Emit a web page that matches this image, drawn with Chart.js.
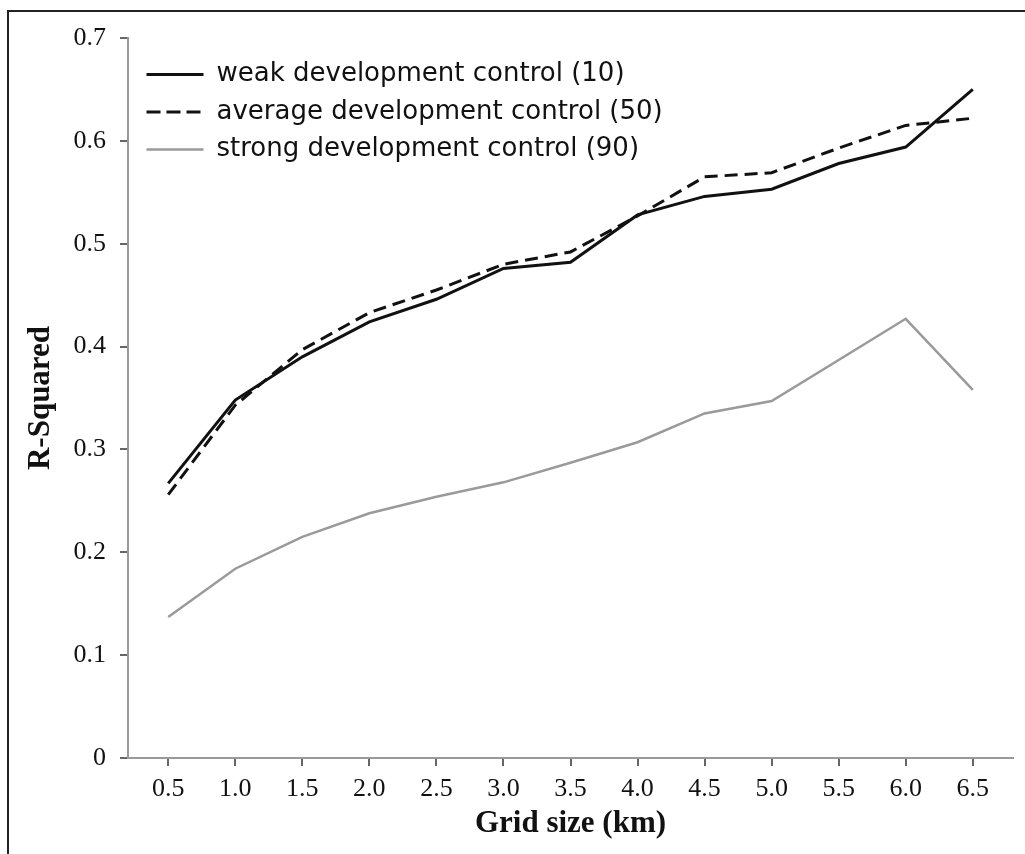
<!DOCTYPE html>
<html>
<head>
<meta charset="utf-8">
<script src="https://cdn.jsdelivr.net/npm/chart.js@4.4.1/dist/chart.umd.min.js"></script>
<style>
  html, body { margin: 0; padding: 0; background: #fff; }
  #wrap { position: relative; width: 1025px; height: 854px; }
  #frame { position: absolute; left: 7px; top: 10px; right: 0; bottom: 0;
           border-top: 2px solid #222; border-left: 2px solid #222; pointer-events: none; }
  canvas { position: absolute; left: 0; top: 0; }
</style>
</head>
<body>
<div id="wrap">
  <canvas id="c" width="1025" height="854"></canvas>
  <div id="frame"></div>
</div>
<script>
"use strict";

// grid size (km) and R-squared per development-control level
const GRID_KM = [0.5, 1.0, 1.5, 2.0, 2.5, 3.0, 3.5, 4.0, 4.5, 5.0, 5.5, 6.0, 6.5];
const WEAK    = [0.267, 0.348, 0.390, 0.424, 0.446, 0.476, 0.482, 0.528, 0.546, 0.553, 0.578, 0.594, 0.650];
const AVERAGE = [0.256, 0.343, 0.397, 0.433, 0.455, 0.480, 0.492, 0.527, 0.565, 0.569, 0.593, 0.615, 0.622];
const STRONG  = [0.137, 0.184, 0.215, 0.238, 0.254, 0.268, 0.287, 0.307, 0.335, 0.347, 0.387, 0.427, 0.358];
const Y_TICKS = [0, 0.1, 0.2, 0.3, 0.4, 0.5, 0.6, 0.7];

const SERIF = '"Liberation Serif", "DejaVu Serif", serif';
const SANS = '"DejaVu Sans", "Noto Sans", sans-serif';
const AXIS = "#999";

function pts(ys) { return GRID_KM.map((x, i) => ({ x, y: ys[i] })); }

function line(label, ys, color, width, dash) {
  return { label, data: pts(ys), borderColor: color, backgroundColor: color,
           borderWidth: width, borderDash: dash || [], pointRadius: 0, tension: 0, fill: false };
}

// nudge the in-plot legend to where it sits in the figure
const legendNudge = {
  id: "legendNudge",
  afterLayout(chart) {
    if (!chart.legend) return;
    chart.legend.left += 7;
    chart.legend.top += 50;
  },
};

new Chart(document.getElementById("c"), {
  type: "line",
  data: {
    datasets: [
      line("weak development control (10)", WEAK, "#111", 3),
      line("average development control (50)", AVERAGE, "#111", 3, [13, 7]),
      line("strong development control (90)", STRONG, "#9a9a9a", 2.5),
    ],
  },
  options: {
    responsive: false,
    animation: false,
    layout: { padding: { top: 38, right: 12, left: 0, bottom: 0 } },
    scales: {
      x: {
        type: "linear", min: 0.2, max: 6.8,
        afterBuildTicks: (s) => { s.ticks = GRID_KM.map(v => ({ value: v })); },
        afterFit: (s) => { s.height = 96; },
        border: { color: AXIS, width: 2 },
        grid: { drawOnChartArea: false, drawTicks: true, tickLength: 8, color: "#666", lineWidth: 2 },
        ticks: { color: "#111", padding: 8, font: { family: SERIF, size: 26 },
                 callback: (v) => Number(v).toFixed(1) },
        title: { display: true, text: "Grid size (km)", color: "#111",
                 font: { family: SERIF, size: 31, weight: "bold" }, padding: { top: 0, bottom: 11 } },
      },
      y: {
        min: 0, max: 0.7,
        afterBuildTicks: (s) => { s.ticks = Y_TICKS.map(v => ({ value: v })); },
        afterFit: (s) => { s.width = 128; },
        border: { color: AXIS, width: 2 },
        grid: { drawOnChartArea: false, drawTicks: true, tickLength: 8, color: "#666", lineWidth: 2 },
        ticks: { color: "#111", padding: 14, font: { family: SERIF, size: 26 },
                 callback: (v) => (v === 0 ? "0" : Number(v).toFixed(1)) },
        title: { display: true, text: "R-Squared", color: "#111",
                 font: { family: SERIF, size: 31, weight: "bold" }, padding: { top: 22, bottom: 0 } },
      },
    },
    plugins: {
      legend: {
        position: "chartArea", align: "start",
        labels: { boxWidth: 57, boxHeight: 0, padding: 11.5, color: "#111",
                  font: { family: SANS, size: 26 } },
      },
      tooltip: { enabled: false },
    },
  },
  plugins: [legendNudge],
});
</script>
</body>
</html>
